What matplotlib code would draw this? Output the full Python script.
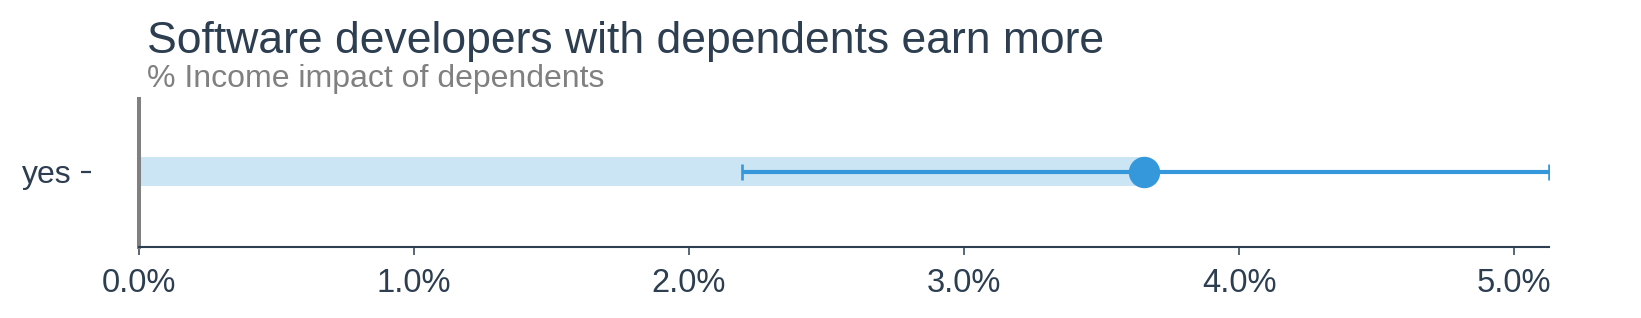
import matplotlib

matplotlib.use("Agg")
import matplotlib.pyplot as plt
from matplotlib.ticker import FuncFormatter

# data
categories = ["yes"]
estimate = [3.654]
ci_low = [2.194]
ci_high = [5.127]
x_ticks = [0, 1, 2, 3, 4, 5]

TITLE = "Software developers with dependents earn more"
SUBTITLE = "% Income impact of dependents"

DARK = "#2c3e50"
BLUE = "#3498db"
GREY = "#808080"

plt.rcParams["font.family"] = ["Liberation Sans", "DejaVu Sans"]

fig = plt.figure(figsize=(16.41, 3.18), dpi=100)
ax = fig.add_axes([0.0847, 0.2233, 0.8592, 0.4654])

ys = list(range(len(categories)))
ax.barh(ys, estimate, height=0.23, color=BLUE, alpha=0.25, linewidth=0)
lo_err = [e - l for e, l in zip(estimate, ci_low)]
hi_err = [h - e for e, h in zip(estimate, ci_high)]
ax.errorbar(estimate, ys, xerr=[lo_err, hi_err], fmt="o", color=BLUE,
            markersize=21.6, elinewidth=3.0, capsize=6.1, capthick=1.9, zorder=3)
# zero reference line, drawn over the axes edge
ax.axvline(0, color=GREY, linewidth=2.9, zorder=4, clip_on=False)

ax.set_xlim(0, ci_high[0])
ax.set_ylim(-0.6, 0.58)
ax.set_xticks(x_ticks)
ax.xaxis.set_major_formatter(FuncFormatter(lambda v, _: f"{v:.1f}%"))
ax.set_yticks(ys)
ax.set_yticklabels(categories)

for s in ("top", "right"):
    ax.spines[s].set_visible(False)
ax.spines["left"].set_position(("outward", 34.5))
ax.spines["left"].set_color("none")
ax.spines["bottom"].set_color(DARK)
ax.spines["bottom"].set_linewidth(1.5)
ax.spines["bottom"].set_zorder(5)
ax.tick_params(axis="x", colors=DARK, labelsize=23.5, length=5.8, width=1.1, pad=9.5)
ax.tick_params(axis="y", colors=DARK, labelsize=23, length=7, width=1.6, pad=7)

fig.text(0.0896, 0.833, TITLE, fontsize=32, color=DARK, ha="left", va="baseline")
fig.text(0.0896, 0.726, SUBTITLE, fontsize=23, color=GREY, ha="left", va="baseline")

fig.savefig("out.png", dpi=100)
